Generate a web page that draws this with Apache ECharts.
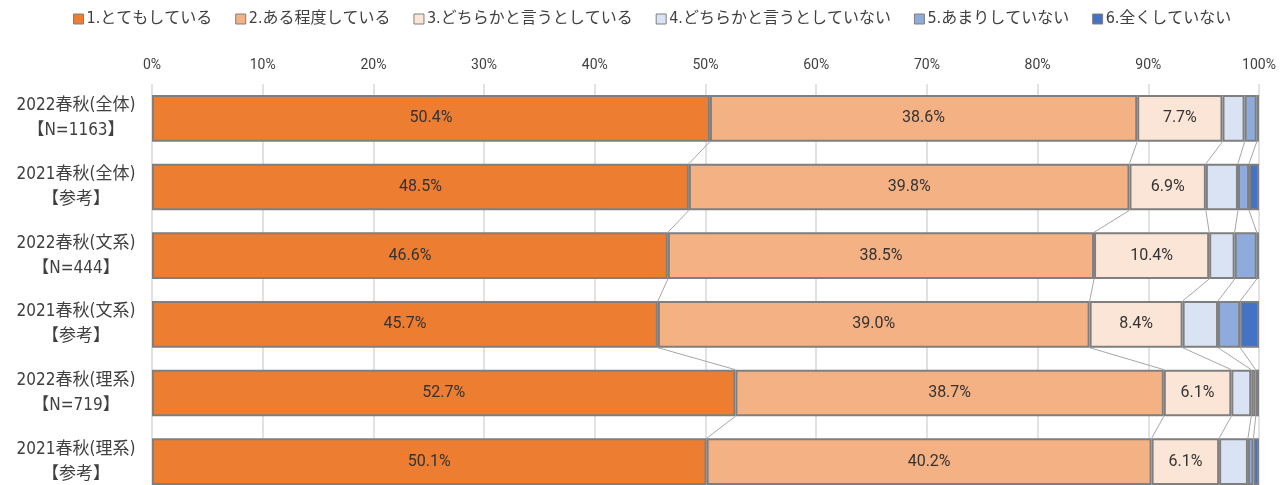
<!DOCTYPE html>
<html>
<head>
<meta charset="utf-8">
<script src="https://cdn.jsdelivr.net/npm/echarts@6/dist/echarts.min.js"></script>
<style>
  html, body { margin: 0; padding: 0; background: #fff; overflow: hidden; }
  #chart { width: 1281px; height: 500px; }
</style>
</head>
<body>
<div id="chart"></div>
<script>
// カテゴリ（上から順）
const categories = [
  "2022春秋(全体)\n【N=1163】",
  "2021春秋(全体)\n【参考】",
  "2022春秋(文系)\n【N=444】",
  "2021春秋(文系)\n【参考】",
  "2022春秋(理系)\n【N=719】",
  "2021春秋(理系)\n【参考】"
];
const seriesNames = [
  "1.とてもしている",
  "2.ある程度している",
  "3.どちらかと言うとしている",
  "4.どちらかと言うとしていない",
  "5.あまりしていない",
  "6.全くしていない"
];
const s1 = [50.4, 48.5, 46.6, 45.7, 52.7, 50.1];
const s2 = [38.6, 39.8, 38.5, 39.0, 38.7, 40.2];
const s3 = [7.7, 6.9, 10.4, 8.4, 6.1, 6.1];
const s4 = [2.0, 2.9, 2.3, 3.2, 1.8, 2.6];
const s5 = [1.1, 1.0, 2.0, 2.0, 0.4, 0.5];
const s6 = [0.2, 0.9, 0.2, 1.7, 0.3, 0.5];
const xTicks = [0, 10, 20, 30, 40, 50, 60, 70, 80, 90, 100];

const allSeries = [s1, s2, s3, s4, s5, s6];
const colors = ["#ED7D31", "#F4B183", "#FBE5D6", "#DAE3F3", "#8FAADC", "#4472C4"];
const font = "'DejaVu Sans Condensed', 'Noto Sans CJK JP', sans-serif";
const numFont = "Roboto, 'Noto Sans', sans-serif";

// 各行の境界の累積値
function cumAt(row, k) {
  let c = 0;
  for (let j = 0; j <= k; j++) c += allSeries[j][row];
  return c;
}

const bars = allSeries.map((arr, idx) => ({
  name: seriesNames[idx],
  type: "bar",
  stack: "total",
  data: arr,
  barCategoryGap: "32%",
  itemStyle: { color: colors[idx], borderColor: "#7f7f7f", borderWidth: 2 },
  label: {
    show: idx < 3,
    position: "inside",
    formatter: (p) => p.value.toFixed(1) + "%",
    color: "#333333",
    fontSize: 16,
    fontFamily: numFont
  },
  emphasis: { disabled: true },
  z: 3
}));

// 区分線（行と行をつなぐ線）
const connector = {
  type: "custom",
  data: categories.slice(0, categories.length - 1).map((c, i) => [0, i]),
  encode: { x: 0, y: 1 },
  z: 2,
  silent: true,
  renderItem: function (params, api) {
    const row = api.value(1);
    const half = api.size([0, 1])[1] * 0.68 / 2;
    const children = [];
    for (let k = 0; k < 5; k++) {
      const a = api.coord([cumAt(row, k), row]);
      const b = api.coord([cumAt(row + 1, k), row + 1]);
      children.push({
        type: "line",
        shape: { x1: a[0], y1: a[1] + half, x2: b[0], y2: b[1] - half },
        style: { stroke: "#a6a6a6", lineWidth: 1 }
      });
    }
    return { type: "group", children: children };
  }
};

const chart = echarts.init(document.getElementById("chart"));
chart.setOption({
  animation: false,
  color: colors,
  legend: {
    data: seriesNames,
    top: 6,
    left: 68,
    icon: "rect",
    itemWidth: 10,
    itemHeight: 10,
    itemGap: 23,
    itemStyle: { borderColor: "#7f7f7f", borderWidth: 1 },
    textStyle: { fontSize: 16, color: "#404040", fontFamily: font, padding: [0, 0, 0, -2] }
  },
  grid: { left: 152, right: 22, top: 84, height: 412, containLabel: false },
  xAxis: {
    type: "value",
    position: "top",
    min: 0,
    max: 100,
    interval: 10,
    axisLine: { show: false },
    axisTick: { show: false },
    axisLabel: {
      formatter: (v) => (xTicks.includes(v) ? v + "%" : ""),
      color: "#404040",
      fontSize: 14,
      fontFamily: numFont,
      margin: 12
    },
    splitLine: { show: true, lineStyle: { color: "#d9d9d9", width: 1.5 } }
  },
  yAxis: {
    type: "category",
    inverse: true,
    data: categories,
    axisLine: { show: false },
    axisTick: { show: false },
    axisLabel: {
      align: "center",
      margin: 76,
      color: "#404040",
      fontSize: 17,
      lineHeight: 25,
      fontFamily: font
    }
  },
  series: bars.concat([connector])
});
</script>
</body>
</html>
